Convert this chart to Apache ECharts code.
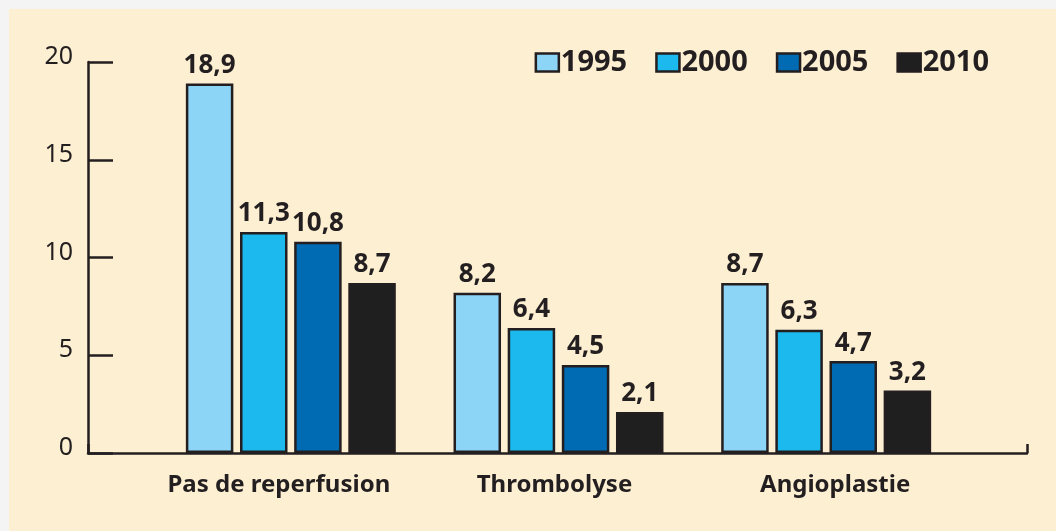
<!DOCTYPE html>
<html>
<head>
<meta charset="utf-8">
<script src="https://cdn.jsdelivr.net/npm/echarts@6/dist/echarts.min.js"></script>
<style>
  html, body { margin: 0; padding: 0; background: #f4f4f4; }
  #paper { position: absolute; left: 9px; top: 9px; right: 0; bottom: 0; background: #fdefd2; }
  #chart { position: absolute; left: 0; top: 0; width: 1056px; height: 531px; }
</style>
</head>
<body>
<div id="paper"></div>
<div id="chart"></div>
<script>
// données du graphique
const categories = ["Pas de reperfusion", "Thrombolyse", "Angioplastie"];
const years = ["1995", "2000", "2005", "2010"];
const v1995 = [18.9, 8.2, 8.7];
const v2000 = [11.3, 6.4, 6.3];
const v2005 = [10.8, 4.5, 4.7];
const v2010 = [8.7, 2.1, 3.2];
const yearColors = ["#8dd5f7", "#1bb9ed", "#006bb3", "#1f1f1f"];

const ink = "#231f20";
const font = "Noto Sans";
const allValues = [v1995, v2000, v2005, v2010];

const chart = echarts.init(document.getElementById("chart"));

// petit décalage horizontal des libellés comme sur l'original
const labelShift = [-12, -4, 9];
const categoryData = categories.map((c, i) => ({
  value: c,
  textStyle: {
    padding: labelShift[i] < 0 ? [0, -2 * labelShift[i], 0, 0] : [0, 0, 0, 2 * labelShift[i]],
  },
}));

const series = years.map((y, i) => ({
  name: y,
  type: "bar",
  xAxisIndex: 1,
  yAxisIndex: 1,
  data: allValues[i],
  barWidth: 47.5,
  barGap: "14%",
  itemStyle: {
    color: yearColors[i],
    borderColor: ink,
    borderWidth: 2.5,
  },
  label: {
    show: true,
    position: "top",
    distance: 5,
    color: ink,
    fontFamily: font,
    fontWeight: "bold",
    fontSize: 26,
    formatter: (p) => String(p.value).replace(".", ","),
  },
}));

const option = {
  animation: false,
  textStyle: { fontFamily: font, color: ink },
  legend: {
    data: years,
    right: 62,
    top: 43,
    itemWidth: 23,
    itemHeight: 18,
    itemGap: 28,
    icon: "rect",
    itemStyle: { borderColor: ink, borderWidth: 2.5 },
    textStyle: {
      color: ink,
      fontFamily: font,
      fontWeight: "bold",
      fontSize: 29,
      padding: [0, 0, 0, -3],
    },
  },
  grid: [
    { left: 88, right: 29, top: 62, bottom: 78 },
    { left: 157, right: 96, top: 62, bottom: 78 },
  ],
  xAxis: [
    {
      gridIndex: 0,
      type: "value",
      min: 0,
      max: 1,
      interval: 1,
      axisLine: { show: true, lineStyle: { color: ink, width: 2.5 } },
      axisTick: { show: true, inside: true, length: 9, lineStyle: { color: ink, width: 2.5 } },
      axisLabel: { show: false },
      splitLine: { show: false },
    },
    {
      gridIndex: 1,
      type: "category",
      data: categoryData,
      axisLine: { show: false },
      axisTick: { show: false },
      axisLabel: {
        interval: 0,
        hideOverlap: false,
        margin: 20,
        color: ink,
        fontFamily: font,
        fontWeight: "bold",
        fontSize: 24,
      },
    },
  ],
  yAxis: [
    {
      gridIndex: 0,
      type: "value",
      min: 0,
      max: 20,
      interval: 5,
      axisLine: { show: true, lineStyle: { color: ink, width: 2.5 } },
      axisTick: { show: true, inside: true, length: 25, lineStyle: { color: ink, width: 2.5 } },
      axisLabel: {
        margin: 15,
        color: ink,
        fontFamily: font,
        fontSize: 25,
        verticalAlign: "bottom",
        lineHeight: 10,
      },
      splitLine: { show: false },
    },
    {
      gridIndex: 1,
      type: "value",
      min: 0,
      max: 20,
      show: false,
    },
  ],
  series: series,
};

chart.setOption(option);
</script>
</body>
</html>
